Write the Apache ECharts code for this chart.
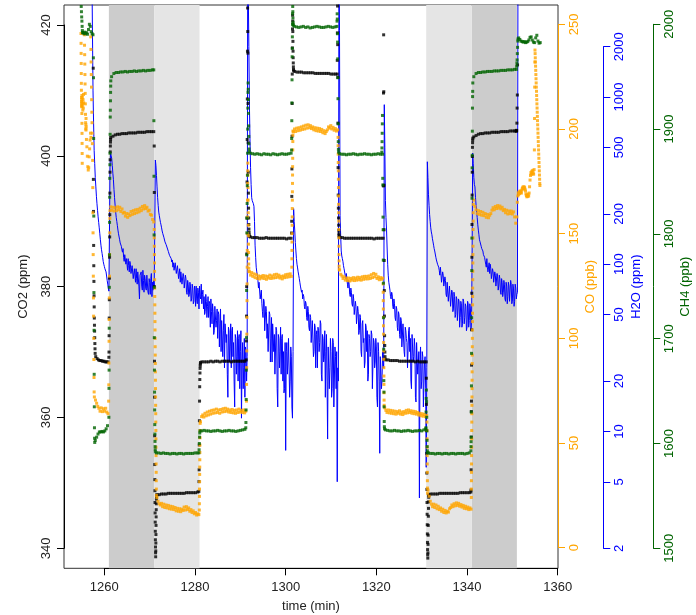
<!DOCTYPE html>
<html>
<head>
<meta charset="utf-8">
<script src="https://cdn.jsdelivr.net/npm/echarts@6/dist/echarts.min.js"></script>
<style>
  html, body { margin: 0; padding: 0; background: #ffffff; }
  #chart { width: 696px; height: 615px; }
</style>
</head>
<body>
<div id="chart"></div>
<script>
// Calibration sequence: CO2, CO, H2O and CH4 readings while switching between gas tanks.

// Shaded tank periods (minutes)
const shadeDark = [[1261, 1271], [1341, 1351]];
const shadeLight = [[1271, 1281], [1331, 1341]];

// Tick positions of each axis
const timeTicks = [1260, 1280, 1300, 1320, 1340, 1360];
const co2Ticks = [340, 360, 380, 400, 420];
const coTicks = [0, 50, 100, 150, 200, 250];
const h2oTicks = [2, 5, 10, 20, 50, 100, 200, 500, 1000, 2000];
const ch4Ticks = [1500, 1600, 1700, 1800, 1900, 2000];

// Readings are stored as runs: [first time (min), sampling step (min), [values]]

// CO2 (ppm)
const co2Runs = [
  [1257.55, 0.03, [413.4, 396.4, 391.5, 386.3, 383.2, 380.8, 378.6, 376.9, 375.2, 374.1, 373.2, 372.2, 371.3, 370.5, 369.8]],
  [1258.1, 0.3, [369.3, 369.0, 368.8, 368.7, 368.7, 368.6, 368.6, 368.5, 368.5, 368.5]],
  [1261.0, 0.025, [369.2, 370.0, 372.5, 375.2, 378.0, 381.3, 384.5, 387.6, 391.0, 394.3, 397.5, 399.4, 400.6, 401.5, 402.1, 402.5]],
  [1261.4, 0.5, [402.8, 403.0, 403.2, 403.3, 403.3, 403.4, 403.4, 403.4, 403.5, 403.5, 403.5, 403.5, 403.6, 403.6, 403.6, 403.6, 403.7, 403.7, 403.7, 403.7]],
  [1271.0, 0.02, [401.5, 394.4, 380.0, 368.6, 363.1, 357.2, 352.8, 350.5, 348.8, 347.0, 345.4, 344.0, 342.6, 341.3, 340.2, 339.3, 338.7, 339.6, 340.8, 342.1, 343.5, 344.8, 345.9, 346.8, 347.5, 347.9, 348.1]],
  [1271.6, 0.5, [348.2, 348.2, 348.3, 348.3, 348.3, 348.4, 348.4, 348.4, 348.4, 348.4, 348.4, 348.4, 348.4, 348.5, 348.5, 348.5, 348.5, 348.5, 348.6]],
  [1280.85, 0.03, [348.7, 350.2, 352.0, 355.8, 359.5, 362.5, 364.7, 365.8, 366.8, 367.5, 367.9, 368.2, 368.4]],
  [1281.5, 0.5, [368.5, 368.5, 368.5, 368.5, 368.6, 368.5, 368.6, 368.6, 368.5, 368.6, 368.6, 368.6, 368.6, 368.5, 368.6, 368.6, 368.6, 368.6, 368.6, 368.6]],
  [1291.3, 0.03, [368.8, 371.7, 375.5, 380.0, 385.0, 390.5, 396.0, 402.5, 408.7, 416.0, 422.6, 419.0, 415.7, 408.0, 402.0, 397.5, 394.3, 392.0, 390.5, 389.5, 388.8, 388.3, 387.9, 387.7]],
  [1292.2, 0.5, [387.6, 387.5, 387.5, 387.5, 387.4, 387.4, 387.4, 387.5, 387.4, 387.4, 387.4, 387.4, 387.4, 387.4, 387.4, 387.4, 387.3, 387.4, 387.4]],
  [1301.3, 0.025, [388.2, 390.0, 393.8, 398.0, 403.0, 408.0, 412.5, 416.5, 419.4, 421.5, 420.6, 419.0, 417.5, 416.0, 415.0, 414.2, 413.6, 413.2, 413.0]],
  [1302.0, 0.5, [412.9, 412.8, 412.8, 412.8, 412.7, 412.7, 412.7, 412.7, 412.7, 412.6, 412.6, 412.6, 412.6, 412.6, 412.6, 412.6, 412.5, 412.5, 412.5]],
  [1311.35, 0.03, [412.5, 414.6, 418.8, 422.9, 417.0, 412.0, 405.0, 398.2, 394.0, 392.0, 390.5, 389.4, 388.6, 388.1, 387.8, 387.6]],
  [1312.0, 0.5, [387.5, 387.5, 387.4, 387.4, 387.4, 387.4, 387.4, 387.4, 387.4, 387.4, 387.4, 387.4, 387.4, 387.4, 387.4, 387.3, 387.4, 387.4, 387.4, 387.4]],
  [1321.55, 0.03, [395.4, 409.6, 418.5, 409.8, 395.5, 388.7, 384.0, 379.4, 375.5, 372.5, 371.0, 370.0, 369.3, 368.9]],
  [1322.1, 0.5, [368.8, 368.8, 368.7, 368.7, 368.7, 368.7, 368.6, 368.6, 368.6, 368.6, 368.6, 368.6, 368.6, 368.5, 368.6, 368.5, 368.5, 368.5]],
  [1331.0, 0.025, [368.5, 366.0, 362.0, 358.0, 354.5, 351.5, 349.0, 347.0, 345.2, 343.6, 342.2, 340.9, 339.8, 339.0, 338.5, 339.3, 340.6, 342.0, 343.5, 344.9, 346.1, 347.1, 347.8, 348.1, 348.2]],
  [1332.0, 0.5, [348.3, 348.3, 348.3, 348.3, 348.4, 348.4, 348.4, 348.4, 348.4, 348.4, 348.4, 348.4, 348.4, 348.5, 348.5, 348.5, 348.5, 348.5]],
  [1340.85, 0.025, [348.6, 348.9, 352.0, 357.0, 360.9, 362.5, 368.0, 373.4, 379.0, 384.5, 389.5, 394.0, 397.5, 399.9, 401.3, 402.0, 402.4, 402.7]],
  [1341.5, 0.5, [402.9, 403.1, 403.3, 403.4, 403.4, 403.5, 403.5, 403.5, 403.6, 403.6, 403.6, 403.6, 403.7, 403.7, 403.7, 403.7, 403.8, 403.8, 403.8]],
  [1350.8, 0.05, [403.8, 403.8, 403.8, 403.9, 405.0, 407.3, 409.3, 413.9]]
];

// CO (ppb)
const coRuns = [
  [1254.85, 0.015, [245.6, 240.9, 236.1, 231.3, 226.5, 221.8, 218.5, 215.0, 212.0, 214.0, 211.0, 213.0, 210.6, 207.4, 202.7, 197.9, 193.1, 188.3, 183.6]],
  [1255.0, 0.05, [213.0, 216.0, 211.0, 215.0, 212.0, 209.0, 214.0, 210.0, 216.5, 212.5]],
  [1255.6, 0.03, [245.0, 240.0, 235.5, 231.0, 226.0, 221.5, 217.0, 212.0, 207.0, 203.0, 200.0, 202.0, 205.0, 201.0]],
  [1255.95, 0.1, [199.5, 195.0, 191.5, 187.0, 182.0, 180.4, 181.5, 186.7, 190.5, 194.7, 198.0, 196.0]],
  [1257.0, 0.04, [244.0, 238.0, 232.0, 226.0, 220.0, 214.0, 208.0, 203.0, 198.0, 193.0]],
  [1257.42, 0.03, [185.0, 172.0, 160.0, 150.4, 140.0, 129.7, 119.3, 110.6, 100.0, 89.9, 81.3, 74.4]],
  [1257.8, 0.25, [72.0, 70.5, 69.0, 67.5, 66.6, 65.2, 66.8, 65.0, 66.4, 65.2, 66.6, 64.8, 64.0]],
  [1260.95, 0.03, [70.0, 77.8, 88.2, 98.6, 109.0, 119.3, 129.7, 140.0, 150.4, 157.3, 161.0]],
  [1261.4, 0.25, [162.8, 161.2, 162.6, 160.8, 162.4, 161.0, 162.8, 161.4, 162.6, 160.6, 161.8, 159.8, 160.2, 158.4, 159.6, 157.8, 159.4, 158.6, 160.6, 159.2, 161.0, 159.6, 161.4, 160.0, 161.6, 160.4, 162.2, 161.0, 163.0, 161.8, 163.4, 162.0, 162.6, 160.8, 161.2, 159.2, 158.8, 156.8, 155.6]],
  [1271.0, 0.015, [152, 148, 144, 140, 136, 132, 128, 124, 120, 116, 112, 108, 104, 100, 96, 92, 88, 84, 80, 76, 72, 68, 64, 60, 56, 52, 48, 44, 40, 36, 32, 28, 25]],
  [1271.6, 0.25, [24.0, 22.2, 21.0, 20.4, 21.2, 19.6, 20.8, 19.2, 20.4, 19.0, 20.2, 18.6, 19.8, 18.4, 19.6, 18.2, 19.2, 17.6, 18.8, 17.4, 18.6, 17.2, 18.4, 17.8, 19.4, 18.0, 19.6, 18.2, 19.0, 17.4, 18.2, 16.8, 17.6, 16.2, 16.8, 15.6, 16.2, 15.8]],
  [1280.95, 0.015, [18.0, 21.0, 24.5, 28.0, 31.5, 35.0, 38.5, 42.0, 45.5, 49.0, 52.5, 56.0, 59.4]],
  [1281.2, 0.25, [60.2, 62.6, 63.4, 62.4, 64.2, 63.0, 64.8, 63.4, 65.2, 63.8, 65.6, 64.2, 65.8, 64.4, 66.2, 64.6, 65.8, 64.2, 66.0, 64.8, 66.4, 65.0, 66.6, 65.2, 66.2, 64.8, 65.8, 64.6, 66.0, 64.4, 65.6, 64.2, 65.8, 64.6, 66.2, 64.8, 65.6, 64.6, 65.8, 64.4, 65.2]],
  [1291.35, 0.02, [70, 78, 86, 94, 102, 110, 118, 126, 134, 142, 150, 158, 166, 174, 180, 183.7, 178, 172, 166, 160, 154, 149, 145, 141, 138, 135.5, 133.5, 132]],
  [1292.0, 0.25, [131.8, 130.2, 131.4, 129.6, 130.8, 129.0, 130.4, 128.6, 129.8, 128.4, 129.6, 128.8, 130.0, 128.6, 129.8, 128.2, 129.6, 128.8, 130.2, 128.6, 129.8, 128.8, 130.4, 129.0, 130.6, 129.2, 130.2, 128.8, 129.6, 128.4, 129.8, 129.0, 130.4, 129.2, 130.6, 129.4, 130.8, 129.6]],
  [1301.35, 0.015, [134, 138, 142, 146, 150, 154, 158, 162, 166, 170, 174, 178, 182, 186, 190, 194, 197, 199]],
  [1301.7, 0.25, [198.6, 200.0, 198.8, 200.4, 199.2, 200.6, 199.4, 201.0, 199.8, 201.4, 200.0, 201.8, 200.4, 202.0, 200.6, 201.6, 200.2, 201.0, 199.6, 200.6, 199.2, 200.4, 199.0, 200.2, 198.8, 199.8, 198.2, 199.2, 197.8, 198.8, 199.6, 201.0, 200.4, 201.6, 200.0, 200.8, 199.4, 200.2, 199.0, 199.6]],
  [1311.55, 0.015, [196, 192, 188, 184, 180, 176, 172, 168, 164, 160, 156, 152, 148, 144, 140, 137, 134.5, 133]],
  [1311.9, 0.25, [132.6, 130.6, 129.8, 128.6, 129.4, 127.8, 128.8, 127.6, 128.8, 127.4, 128.6, 127.8, 129.0, 127.6, 128.8, 127.8, 129.2, 128.0, 129.0, 127.8, 129.4, 128.2, 129.6, 128.4, 129.6, 128.4, 129.8, 128.6, 130.4, 129.0, 131.0, 129.4, 130.6, 128.6, 129.4, 128.0, 129.0, 128.2, 128.8]],
  [1321.5, 0.015, [126, 122, 118, 114, 110, 106, 102, 98, 94, 90, 86, 82, 78, 74, 70.5, 68]],
  [1321.85, 0.25, [66.8, 65.6, 64.6, 65.8, 64.4, 65.6, 64.2, 65.4, 64.0, 65.2, 63.8, 65.0, 64.2, 65.4, 63.8, 64.8, 63.6, 65.0, 64.2, 65.6, 64.4, 65.8, 64.6, 65.4, 64.2, 65.2, 64.0, 65.0, 63.8, 64.6, 63.4, 64.2, 63.0, 64.0, 62.8, 63.6, 62.6, 63.2]],
  [1331.15, 0.015, [60, 56, 52, 48, 44, 40, 36, 32, 28.5, 26]],
  [1331.4, 0.25, [27.5, 24.6, 22.2, 20.8, 19.6, 20.8, 19.2, 20.4, 18.6, 19.8, 18.2, 19.0, 17.4, 18.4, 16.8, 17.8, 16.6, 17.4, 17.0, 18.6, 19.2, 20.4, 19.6, 21.0, 20.0, 21.4, 20.2, 21.2, 19.8, 20.6, 19.4, 20.2, 18.8, 19.8, 18.6, 19.4, 18.2, 19.0, 18.4]],
  [1340.95, 0.012, [24, 28, 32, 36, 40, 44, 48, 52, 56, 60, 64, 68, 72, 76, 80, 84, 88, 92, 96, 100, 104, 108, 112, 116, 120, 124, 128, 132, 136, 140, 144, 148, 152, 156, 160, 164]],
  [1341.5, 0.25, [166.0, 163.0, 161.4, 159.6, 161.0, 159.2, 160.6, 158.8, 160.2, 158.6, 159.6, 157.8, 159.2, 157.6, 158.8, 159.6, 161.2, 162.4, 161.4, 163.0, 162.0, 163.4, 162.2, 163.2, 161.8, 162.6, 161.0, 161.6, 160.0, 161.2, 159.4, 160.8, 159.6, 160.8, 159.4, 160.4, 158.0, 155.0]],
  [1351.0, 0.1, [158.0, 165.0, 168.0, 169.5, 168.6, 170.0, 169.2, 170.4, 169.6, 170.2, 169.4, 170.8, 171.6, 172.2, 171.4, 172.4, 171.6, 172.2, 171.2, 170.4, 169.0, 168.2, 167.6, 168.4, 167.8, 168.8, 168.0, 169.4, 172.4, 175.6, 177.8, 179.2, 178.4, 179.8, 178.6, 180.2, 179.0, 178.4, 180.6]],
  [1354.86, 0.033, [190, 205, 220, 232, 237.7, 236, 234, 232, 230, 228, 226, 224, 222, 220, 218, 216, 214, 212, 210, 208, 206, 204, 202, 200, 198, 196, 194, 192, 190, 188, 186, 184, 182, 180, 178, 176, 174, 173]]
];

// CH4 (ppb)
const ch4Runs = [
  [1254.9, 0.05, [2017, 2012, 2007, 2003, 1998, 1994, 1992]],
  [1255.3, 0.2, [1992, 1991, 1992.5, 1991, 1992, 1990.5, 1995, 2000, 1998, 1993, 1991, 1990]],
  [1257.58, 0.03, [1968, 1949, 1891, 1817, 1744, 1708, 1666, 1635, 1615, 1605, 1601]],
  [1258.0, 0.3, [1603, 1606, 1609, 1611, 1611, 1611.5, 1611, 1612, 1614, 1617]],
  [1261.0, 0.025, [1625, 1652.6, 1670, 1710, 1749, 1780, 1811, 1835, 1853, 1866, 1877, 1895, 1911.5, 1918, 1927, 1935, 1941, 1946]],
  [1261.6, 0.5, [1950, 1953, 1954, 1954, 1954.5, 1954.5, 1955, 1954.5, 1955, 1955, 1955.5, 1955, 1955.5, 1955.5, 1956, 1955.5, 1956, 1956, 1956.5]],
  [1270.9, 0.025, [1956.5, 1908, 1855, 1799, 1749, 1701, 1670, 1649, 1632, 1618, 1609, 1602, 1597, 1594, 1592]],
  [1271.5, 0.5, [1591, 1591, 1590.5, 1591, 1590.5, 1590.5, 1590, 1590.5, 1590.5, 1590, 1590.5, 1590.5, 1590, 1590.5, 1590.5, 1590.5, 1590.5, 1591, 1591]],
  [1280.85, 0.05, [1591, 1594, 1600, 1606, 1610, 1612]],
  [1281.5, 0.5, [1612, 1612.5, 1612, 1612, 1611.5, 1612, 1612, 1612.5, 1612, 1611.5, 1612, 1612, 1612.5, 1612, 1612, 1611.5, 1612, 1612.5, 1613, 1613.5]],
  [1291.2, 0.03, [1615, 1620, 1632, 1642, 1670, 1701, 1746, 1780, 1801, 1815, 1829, 1846, 1856, 1877, 1900, 1920, 1935, 1944, 1938, 1928, 1915, 1903, 1893, 1886, 1881, 1878.5]],
  [1292.2, 0.5, [1877, 1876.5, 1876, 1876.5, 1876, 1875.5, 1876.5, 1876, 1876, 1875.5, 1876.5, 1876, 1875.5, 1876, 1876.5, 1876, 1876, 1876.5, 1877]],
  [1301.3, 0.025, [1880, 1891, 1908, 1925, 1947, 1969, 1977, 1988, 2000, 2010, 2017, 2012, 2006, 2002, 2000, 1999]],
  [1301.9, 0.5, [1998, 1997.5, 1997, 1997.5, 1998, 1997, 1997.5, 1996.5, 1997, 1997.5, 1998, 1997.5, 1997, 1997, 1997.5, 1998, 1997.5, 1997, 1997.5]],
  [1311.3, 0.03, [1998, 2003, 2010, 2005, 1991, 1983, 1967, 1949, 1929, 1905, 1888, 1880.6, 1878]],
  [1311.9, 0.5, [1876.5, 1876, 1876, 1875.5, 1876, 1876, 1876.5, 1876, 1875.5, 1876, 1876, 1876.5, 1876, 1876, 1875.5, 1876, 1876, 1876.5, 1876]],
  [1321.2, 0.03, [1878, 1882, 1888, 1896, 1905, 1913, 1876, 1853, 1846.7, 1816, 1804, 1775, 1753, 1720, 1690, 1660, 1649, 1635, 1621, 1616, 1614]],
  [1322.0, 0.5, [1613, 1612.5, 1612, 1612, 1612.5, 1612, 1612, 1611.5, 1612, 1612, 1612.5, 1612, 1611.5, 1612, 1612, 1612.5, 1612, 1613]],
  [1330.9, 0.035, [1614, 1615, 1630, 1643, 1651, 1640, 1625, 1612, 1603, 1597, 1593, 1591]],
  [1331.5, 0.5, [1591, 1590.5, 1590.5, 1590, 1590.5, 1590.5, 1590, 1590.5, 1590.5, 1590, 1590.5, 1590.5, 1590, 1590.5, 1590.5, 1590.5, 1590, 1590.5, 1591]],
  [1340.85, 0.025, [1593, 1597, 1601.7, 1606, 1630, 1655, 1686, 1720, 1765, 1796, 1834, 1863, 1875, 1898, 1920, 1931, 1936, 1944]],
  [1341.5, 0.5, [1950, 1953, 1954, 1954, 1954.5, 1954.5, 1955, 1955, 1955, 1955.5, 1955.5, 1955.5, 1956, 1956, 1956, 1956.5, 1956.5, 1956.5, 1957]],
  [1350.9, 0.05, [1957, 1960, 1963, 1966, 1972, 1978, 1984, 1986]],
  [1351.4, 0.25, [1987, 1985.5, 1984, 1983.5, 1983, 1983.5, 1982.5, 1983, 1983.5, 1985, 1987.5, 1988, 1985, 1983, 1982.5, 1987, 1989.5, 1984, 1982, 1982.5]]
];

// H2O (ppm), one reading every 1/8 minute from 1257 min (one row = one minute)
const h2oStart = 1257;
const h2oStep = 0.125;
const h2oPpm = [
  9000, 9000, 6000, 2500, 1100, 700, 480, 400,    // 1257
  330, 290, 255, 230, 210, 192, 178, 165,
  152, 140, 130, 122, 116, 110, 104, 100,
  97, 94, 92, 90, 88, 80, 76, 72,
  69, 150, 380, 460, 470, 430, 390, 350,          // 1261
  320, 280, 250, 225, 205, 190, 180, 170,
  160, 152, 148, 140, 134, 131, 128, 122,
  118, 124, 110, 104, 114, 116, 100, 108,
  100, 92, 108, 98, 90, 104, 100, 88,
  86, 98, 96, 82, 80, 94, 92, 78,                 // 1266
  94, 82, 76, 90, 88, 74, 62, 86,
  84, 90, 74, 70, 92, 80, 68, 86,
  82, 72, 70, 86, 88, 68, 66, 82,
  78, 66, 82, 88, 64, 78, 70, 80,
  74, 160, 420, 390, 340, 290, 250, 225,          // 1271
  205, 195, 186, 178, 172, 165, 158, 153,
  150, 145, 142, 136, 134, 131, 130, 125,
  122, 119, 118, 113, 112, 110, 108, 103,
  106, 96, 102, 92, 94, 102, 100, 88,
  88, 98, 96, 82, 84, 94, 78, 90,                 // 1276
  88, 76, 74, 88, 84, 72, 74, 86,
  82, 68, 66, 80, 76, 64, 66, 78,
  74, 60, 62, 76, 72, 58, 60, 74,
  70, 56, 74, 62, 58, 72, 68, 54,
  74, 64, 62, 76, 58, 66, 70, 54,                 // 1281
  64, 50, 52, 66, 60, 48, 56, 64,
  48, 60, 58, 42, 62, 52, 44, 58,
  52, 38, 40, 56, 56, 42, 46, 54,
  36, 52, 50, 32, 44, 54, 30, 46,
  46, 28, 40, 50, 24, 44, 44, 34,                 // 1286
  38, 22, 16, 42, 40, 26, 32, 44,
  24, 40, 42, 28, 34, 20, 14, 38,
  36, 22, 28, 40, 20, 36, 38, 18,
  30, 40, 12, 26, 34, 18, 24, 36,
  16, 32, 30, 20, 28, 9000, 9000, 2000,           // 1291
  900, 560, 380, 300, 250, 240, 236, 230,
  222, 180, 130, 110, 96, 90, 86, 80,
  72, 78, 76, 62, 62, 70, 58, 52,
  48, 62, 60, 40, 40, 56, 52, 36,
  44, 30, 30, 52, 50, 26, 36, 48,                 // 1296
  26, 44, 44, 30, 38, 22, 22, 42,
  40, 18, 14, 38, 36, 24, 30, 42,
  22, 36, 38, 20, 30, 17, 18, 34,
  7.7, 30, 34, 22, 26, 36, 36, 16,
  20, 32, 28, 14, 12, 30, 215, 180,               // 1301
  160, 135, 120, 108, 100, 95, 90, 86,
  82, 78, 74, 72, 68, 70, 62, 66,
  64, 56, 54, 60, 58, 48, 46, 56,
  52, 42, 40, 50, 48, 34, 34, 46,
  46, 28, 30, 44, 42, 24, 38, 40,                 // 1306
  24, 42, 40, 30, 34, 46, 44, 22,
  20, 38, 36, 26, 28, 40, 16, 30,
  38, 20, 9, 32, 32, 18, 24, 36,
  30, 16, 18, 36, 34, 14, 14, 32,
  28, 18, 30, 5, 24, 20, 9000, 2500,              // 1311
  195, 150, 120, 112, 108, 104, 98, 94,
  92, 86, 82, 88, 86, 76, 72, 80,
  76, 66, 64, 72, 68, 58, 56, 66,
  62, 50, 50, 60, 56, 44, 44, 56,
  52, 38, 40, 50, 48, 30, 28, 44,                 // 1316
  46, 34, 36, 24, 26, 44, 42, 30,
  40, 20, 22, 38, 36, 28, 30, 40,
  38, 18, 18, 36, 34, 24, 26, 36,
  32, 16, 14, 34, 30, 20, 7.4, 28,
  28, 18, 20, 30, 26, 24, 900, 500,               // 1321
  240, 190, 160, 125, 100, 86, 78, 74,
  70, 64, 62, 68, 66, 56, 54, 62,
  58, 48, 46, 56, 54, 42, 40, 52,
  50, 38, 36, 48, 46, 32, 32, 44,
  44, 30, 28, 42, 40, 36, 34, 24,                 // 1326
  24, 40, 42, 30, 36, 20, 18, 38,
  38, 26, 28, 36, 32, 16, 15, 34,
  34, 22, 22, 30, 4.0, 26, 32, 18,
  20, 30, 28, 14, 14, 26, 28, 18,
  6.1, 24, 410, 330, 260, 225, 198, 180,          // 1331
  165, 156, 150, 142, 136, 130, 124, 120,
  118, 110, 106, 104, 100, 102, 96, 92,
  86, 96, 88, 78, 76, 90, 86, 74,
  72, 84, 80, 66, 64, 78, 76, 60,
  60, 74, 72, 56, 56, 70, 68, 52,                 // 1336
  54, 68, 64, 48, 50, 64, 62, 46,
  46, 62, 60, 42, 48, 60, 58, 42,
  44, 62, 60, 44, 48, 58, 56, 40,
  42, 60, 58, 42, 46, 58, 54, 40,
  46, 120, 462, 400, 330, 300, 290, 250,          // 1341
  225, 205, 190, 172, 160, 150, 140, 136,
  134, 128, 124, 126, 120, 114, 112, 110,
  110, 100, 96, 108, 96, 90, 92, 102,
  88, 100, 94, 82, 80, 94, 90, 78,
  78, 90, 86, 74, 72, 88, 84, 70,                 // 1346
  74, 86, 82, 68, 66, 82, 78, 64,
  68, 80, 76, 62, 60, 78, 74, 58,
  64, 78, 74, 60, 60, 80, 76, 58,
  60, 76, 72, 56, 60, 76, 72, 62,
  66, 68, 9000                                    // 1351
];

// ---- building the series data ----
function expandRuns(runs) {
  const pts = [];
  runs.forEach(([t0, dt, vals]) => {
    vals.forEach((v, i) => pts.push([Math.round((t0 + i * dt) * 1000) / 1000, v]));
  });
  return pts;
}
const h2oData = h2oPpm.map((v, i) => [h2oStart + i * h2oStep, v]);

const FONT = 'Liberation Sans, Arial, Helvetica, sans-serif';
const ORANGE = '#FFA500', BLUE = '#0000FF', GREEN = '#006400', INK = '#222222';
const plain = v => String(v);

const plot = { left: 64, top: 5, width: 494, height: 563.3 };
const hiddenX = { show: false, min: 0, max: 1, type: 'value' };

function displayY(gridIndex, pos, color, extra) {
  return Object.assign({
    gridIndex, type: 'value', position: pos,
    axisLine: { show: true, onZero: false, lineStyle: { color, width: 1 } },
    axisTick: { show: true, inside: false, length: 7, lineStyle: { color } },
    axisLabel: { show: true, color, fontSize: 13, fontFamily: FONT, rotate: 90, margin: 10,
                 showMinLabel: true, showMaxLabel: true, formatter: plain },
    splitLine: { show: false }
  }, extra);
}
function nameOnly(extra) {
  return Object.assign({
    gridIndex: 0, type: 'value', show: true,
    axisLine: { show: false, onZero: false }, axisTick: { show: false }, axisLabel: { show: false },
    splitLine: { show: false }, nameLocation: 'middle'
  }, extra);
}

const shadeData = [];
shadeDark.forEach(([a, b]) => shadeData.push([{ xAxis: a, itemStyle: { color: '#CCCCCC' } }, { xAxis: b }]));
shadeLight.forEach(([a, b]) => shadeData.push([{ xAxis: a, itemStyle: { color: '#E5E5E5' } }, { xAxis: b }]));

const option = {
  animation: false,
  backgroundColor: '#ffffff',
  textStyle: { fontFamily: FONT },
  grid: [
    Object.assign({ show: true, borderColor: '#333333', borderWidth: 1, backgroundColor: 'transparent', outerBoundsMode: 'none' }, plot),
    { left: 104.3, top: 5, width: 453.4, height: 563.3, outerBoundsMode: 'none' },
    { left: 64, top: 25, width: 494, height: 523.3, outerBoundsMode: 'none' },
    { left: 64, top: 24.3, width: 494, height: 523.4, outerBoundsMode: 'none' },
    { left: 64, top: 46.7, width: 494, height: 501.6, outerBoundsMode: 'none' },
    { left: 64, top: 24.3, width: 494, height: 524, outerBoundsMode: 'none' }
  ],
  xAxis: [
    { gridIndex: 0, type: 'value', min: 1251.1, max: 1360.07, show: true,
      axisLine: { show: false, onZero: false }, axisTick: { show: false }, axisLabel: { show: false },
      splitLine: { show: false }, name: 'time (min)', nameLocation: 'middle', nameGap: 32,
      nameTextStyle: { color: INK, fontSize: 13, fontFamily: FONT } },
    { gridIndex: 1, type: 'value', min: timeTicks[0], max: timeTicks[timeTicks.length - 1], interval: 20,
      position: 'bottom',
      axisLine: { show: true, onZero: false, lineStyle: { color: '#000000', width: 1 } },
      axisTick: { show: true, inside: false, length: 7, lineStyle: { color: '#000000' } },
      axisLabel: { color: INK, fontSize: 13, fontFamily: FONT, margin: 13, showMinLabel: true, showMaxLabel: true, formatter: plain },
      splitLine: { show: false } },
    Object.assign({ gridIndex: 2 }, hiddenX),
    Object.assign({ gridIndex: 3 }, hiddenX),
    Object.assign({ gridIndex: 4 }, hiddenX),
    Object.assign({ gridIndex: 5 }, hiddenX)
  ],
  yAxis: [
    // data axes of the plot frame (carry the axis titles)
    nameOnly({ position: 'left', min: 336.94, max: 423.06, name: 'CO2 (ppm)', nameGap: 34,
               nameTextStyle: { color: INK, fontSize: 13, fontFamily: FONT } }),
    nameOnly({ position: 'right', offset: 0, min: -9.84, max: 259.22, name: 'CO (ppb)', nameGap: 26,
               nameTextStyle: { color: ORANGE, fontSize: 13, fontFamily: FONT } }),
    nameOnly({ type: 'log', logBase: 10, position: 'right', offset: 45.3, min: 1.518, max: 3551, name: 'H2O (ppm)', nameGap: 27,
               nameTextStyle: { color: BLUE, fontSize: 13, fontFamily: FONT } }),
    nameOnly({ position: 'right', offset: 95.3, min: 1480.9, max: 2018.4, name: 'CH4 (ppb)', nameGap: 26,
               nameTextStyle: { color: GREEN, fontSize: 13, fontFamily: FONT } }),
    { gridIndex: 1, show: false, type: 'value', min: 0, max: 1 },
    // labelled axes, each spanning its own tick range
    displayY(2, 'left', '#000000', { min: co2Ticks[0], max: co2Ticks[co2Ticks.length - 1], interval: 20,
      axisLabel: { show: true, color: INK, fontSize: 13, fontFamily: FONT, rotate: 90, margin: 11,
                   showMinLabel: true, showMaxLabel: true, formatter: plain } }),
    displayY(3, 'right', ORANGE, { offset: 0, min: coTicks[0], max: coTicks[coTicks.length - 1], interval: 50 }),
    displayY(4, 'right', BLUE, { offset: 45.3, min: Math.log10(h2oTicks[0]), max: Math.log10(h2oTicks[h2oTicks.length - 1]),
      axisTick: { show: true, inside: false, length: 7, lineStyle: { color: BLUE }, customValues: h2oTicks.map(Math.log10) },
      axisLabel: { show: true, color: BLUE, fontSize: 13, fontFamily: FONT, rotate: 90, margin: 10,
                   customValues: h2oTicks.map(Math.log10),
                   formatter: v => String(Math.round(Math.pow(10, v))) } }),
    displayY(5, 'right', GREEN, { offset: 95.3, min: ch4Ticks[0], max: ch4Ticks[ch4Ticks.length - 1], interval: 100 })
  ],
  series: [
    { type: 'line', xAxisIndex: 0, yAxisIndex: 0, data: [], silent: true, z: 1,
      markArea: { silent: true, data: shadeData } },
    { name: 'H2O', type: 'line', xAxisIndex: 0, yAxisIndex: 2, data: h2oData, showSymbol: false,
      symbol: 'none', clip: true, z: 2, lineStyle: { color: BLUE, width: 1 } },
    { name: 'CO2', type: 'scatter', xAxisIndex: 0, yAxisIndex: 0, data: expandRuns(co2Runs),
      symbol: 'rect', symbolSize: 3, clip: true, z: 3, itemStyle: { color: '#000000' } },
    { name: 'CO', type: 'scatter', xAxisIndex: 0, yAxisIndex: 1, data: expandRuns(coRuns),
      symbol: 'rect', symbolSize: 3, clip: true, z: 4, itemStyle: { color: ORANGE } },
    { name: 'CH4', type: 'scatter', xAxisIndex: 0, yAxisIndex: 3, data: expandRuns(ch4Runs),
      symbol: 'rect', symbolSize: 3, clip: true, z: 5, itemStyle: { color: GREEN } }
  ]
};

const chart = echarts.init(document.getElementById('chart'), null, { renderer: 'canvas' });
chart.setOption(option);
</script>
</body>
</html>
